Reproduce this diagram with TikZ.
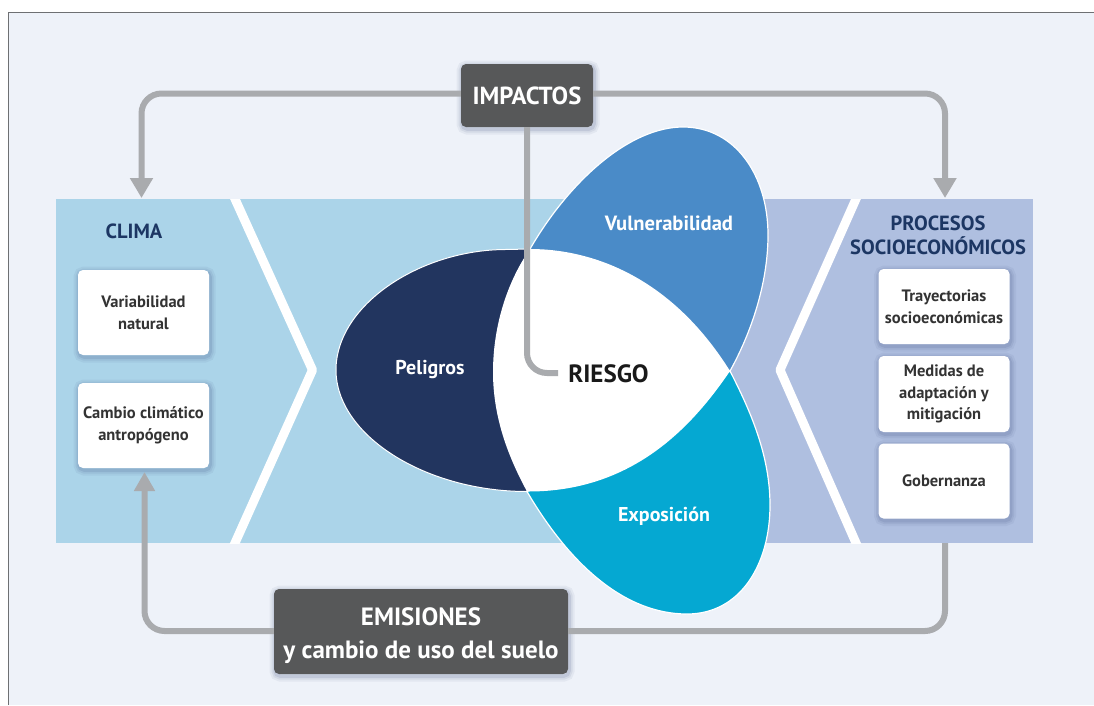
\documentclass[tikz,border=0pt]{standalone}
\usepackage{fontspec}
\setmainfont{PT Sans}
\usetikzlibrary{arrows.meta}
\definecolor{bgpale}{HTML}{EEF2F9}
\definecolor{frameg}{HTML}{6E7073}
\definecolor{bandblue}{HTML}{ABD4E9}
\definecolor{bandlav}{HTML}{AFBFE0}
\definecolor{petnavy}{HTML}{22355F}
\definecolor{petblue}{HTML}{4A8BC8}
\definecolor{petcyan}{HTML}{05A8D2}
\definecolor{darkbox}{HTML}{575859}
\definecolor{conng}{HTML}{A9ABAE}
\definecolor{headnavy}{HTML}{1C3663}
\definecolor{boxtxt}{HTML}{333333}
\definecolor{shadowc}{HTML}{2A3A70}
\tikzset{
  x=1pt,y=-1pt,
  softshadow/.style={
    preaction={draw=shadowc,draw opacity=.06,line width=11pt,transform canvas={xshift=1pt,yshift=-2pt}},
    preaction={draw=shadowc,draw opacity=.08,line width=7pt,transform canvas={xshift=1pt,yshift=-2pt}},
    preaction={draw=shadowc,draw opacity=.10,line width=3.5pt,transform canvas={xshift=1pt,yshift=-2pt}}},
  whitebox/.style={fill=white,rounded corners=5pt,align=center,minimum width=131pt,inner sep=0pt,text=boxtxt,font=\fontsize{16.5}{21.5}\selectfont\bfseries,softshadow},
  darknode/.style={fill=darkbox,rounded corners=5pt,align=center,text=white,inner sep=0pt,softshadow},
  conn/.style={draw=conng,line width=6pt,rounded corners=20pt},
  tipped/.style={-{Triangle[length=20pt,width=22pt]}},
  tippedsmall/.style={-{Triangle[length=19pt,width=20pt]}},
  head/.style={text=headnavy,align=center,font=\fontsize{20.5}{24}\selectfont\bfseries,inner sep=0pt},
  petlabel/.style={text=white,font=\fontsize{20}{24}\selectfont\bfseries,inner sep=0pt},
  chevron/.style={draw=white,line width=9pt,line join=round}
}
\begin{document}
\begin{tikzpicture}
\useasboundingbox (0,0) rectangle (1094,705);
\fill[white] (0,0) rectangle (1094,705);
\fill[bgpale] (9,12.5) rectangle (1094,705);
\draw[frameg,line width=1.6pt] (8.5,705) -- (8.5,12.3) -- (1094,12.3);
% bands
\fill[bandblue] (56,199) rectangle (640,543);
\fill[bandlav] (640,199) rectangle (1033,543);
\begin{scope}
  \clip (56,199) rectangle (1033,543);
  \draw[chevron] (230.5,189) -- (312.5,370) -- (230.5,553);
  \draw[chevron] (860.4,189) -- (780,370) -- (860.4,553);
\end{scope}
% named anchors
\coordinate (tipN) at (530,249);
\coordinate (tipS) at (527,491.5);
\coordinate (tipE) at (730,371);
% petals
\fill[petnavy,draw=white,line width=1pt] (tipN) -- (505,249.5) .. controls (420,250) and (336,305) .. (336,370) .. controls (336,435) and (425,491.5) .. (tipS) -- cycle;
\fill[petblue,draw=white,line width=1.2pt] (tipN) .. controls (570,180) and (630,127) .. (683,127) .. controls (735,127) and (768,175) .. (768,235) .. controls (768,285) and (750,335) .. (tipE) -- cycle;
\fill[petcyan,draw=white,line width=1.2pt] (tipS) .. controls (570,565) and (625,614) .. (687,614) .. controls (740,614) and (770,565) .. (770,505) .. controls (770,455) and (750,410) .. (tipE) -- cycle;
\fill[white] (tipN) .. controls (590,249) and (670,275) .. (tipE) .. controls (690,430) and (630,492) .. (tipS) .. controls (510,460) and (493,420) .. (493,372) .. controls (493,330) and (505,285) .. (tipN) -- cycle;
% text centre
\node[inner sep=0pt,font=\fontsize{25}{30}\selectfont\bfseries,text=black!90] (riesgo) at (608.5,374) {RIESGO};
\node[petlabel] (pel) at (430,370) {Peligros};
\node[petlabel,font=\fontsize{20.6}{24}\selectfont\bfseries] (vul) at (669,223) {Vulnerabilidad};
\node[petlabel] (exp) at (664,516) {Exposición};
% dark boxes
\node[darknode,minimum width=132pt,minimum height=63pt,font=\fontsize{24.7}{30}\selectfont\bfseries] (imp) at (527,95.5) {IMPACTOS};
\node[darknode,minimum width=294pt,minimum height=85pt,font=\fontsize{25}{33}\selectfont\bfseries] (emi) at (421,631.5) {\rule{0pt}{27pt}EMISIONES\\y cambio de uso del suelo};
% headers
\node[head] (clima) at (134,231) {CLIMA};
\node[head] (proc) at (938,235) {PROCESOS\\SOCIOECONÓMICOS};
% white boxes
\node[whitebox,minimum height=85pt] (var) at (143.5,312.5) {Variabilidad\\natural};
\node[whitebox,minimum height=85pt] (cam) at (143.5,425.5) {Cambio climático\\antropógeno};
\node[whitebox,minimum height=75pt] (tra) at (944,306.5) {Trayectorias\\socioeconómicas};
\node[whitebox,minimum height=76pt] (med) at (944,394) {Medidas de\\adaptación y\\mitigación};
\node[whitebox,minimum height=75pt] (gob) at (944,481) {Gobernanza};
% connectors
\coordinate (cliTop) at (141.5,198);
\coordinate (proTop) at (945,198);
\coordinate (proBot) at (945,543);
\coordinate (camIn) at (144.5,472);
\draw[conn,tipped] (imp.west |- 0,93.5) -- (141.5,93.5) -- (cliTop);
\draw[conn,tipped] (imp.east |- 0,93.5) -- (945,93.5) -- (proTop);
\draw[conn,tippedsmall] (emi.west |- 0,631) -- (144.5,631) -- (camIn);
\draw[conn] (emi.east |- 0,631) -- (945,631) -- (proBot);
\draw[conn] (imp.south -| 527,0) -- (527,373) -- (558,373);
\end{tikzpicture}
\end{document}
